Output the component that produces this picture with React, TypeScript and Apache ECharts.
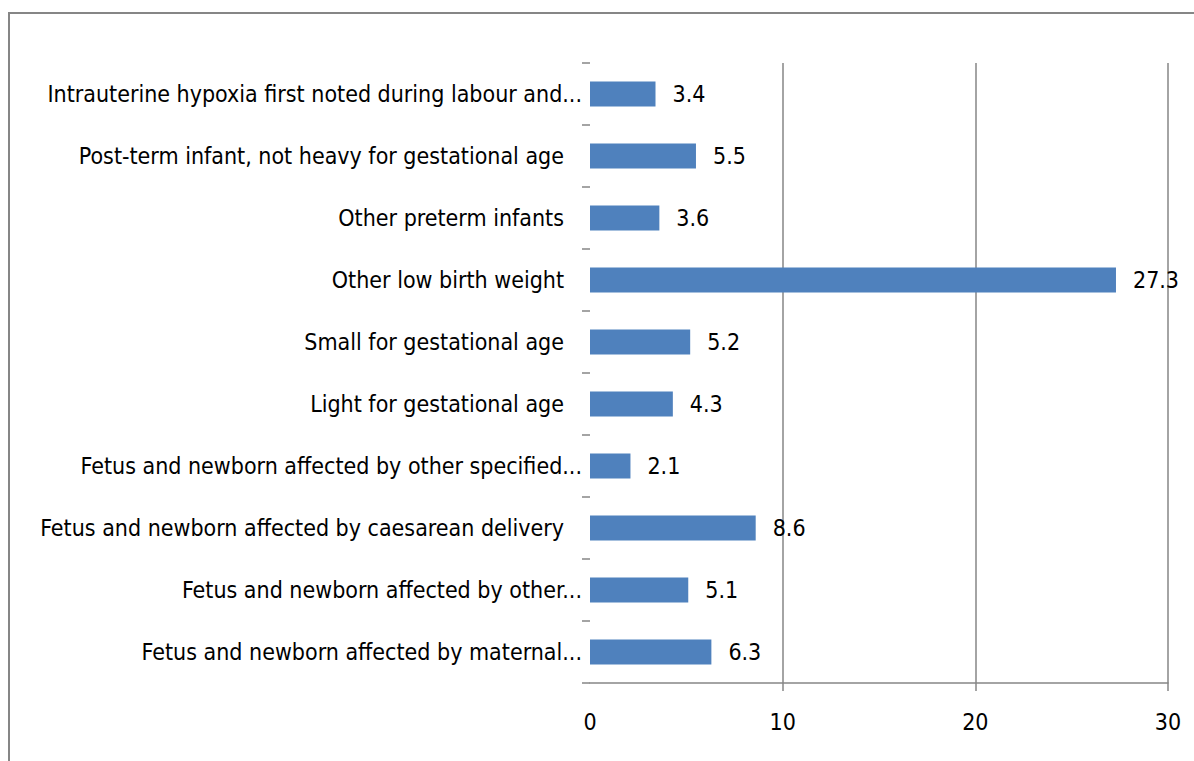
import React, { useEffect, useRef } from "react";
import * as echarts from "echarts";

const categories = [
  "Fetus and newborn affected by maternal...",
  "Fetus and newborn affected by other...",
  "Fetus and newborn affected by caesarean delivery",
  "Fetus and newborn affected by other specified...",
  "Light for gestational age",
  "Small for gestational age",
  "Other low birth weight",
  "Other preterm infants",
  "Post-term infant, not heavy for gestational age",
  "Intrauterine hypoxia first noted during labour and...",
];
const values = [6.3, 5.1, 8.6, 2.1, 4.3, 5.2, 27.3, 3.6, 5.5, 3.4];
const xTicks = [10, 20, 30];

const FONT = "'Liberation Sans Narrow', 'DejaVu Sans Condensed', 'Open Sans', sans-serif";

export default function App() {
  const ref = useRef<HTMLDivElement>(null);
  useEffect(() => {
    const chart = echarts.init(ref.current!, null, { renderer: "svg" });
    chart.setOption({
      animation: false,
      backgroundColor: "#ffffff",
      grid: { left: 590, right: 26, top: 63, bottom: 78, containLabel: false },
      xAxis: {
        type: "value",
        min: 0,
        max: 30,
        interval: 10,
        axisLine: { show: true, lineStyle: { color: "#868686", width: 1.5 } },
        axisTick: { show: true, length: 8, customValues: xTicks, lineStyle: { color: "#868686", width: 1.5 } },
        axisLabel: { color: "#000", fontSize: 23, fontFamily: FONT, margin: 27 },
        splitLine: { show: true, lineStyle: { color: "#868686", width: 1.5 } },
      },
      yAxis: {
        type: "category",
        data: categories,
        axisLine: { show: false },
        axisTick: { show: true, length: 8, lineStyle: { color: "#868686", width: 1.5 } },
        axisLabel: {
          color: "#000",
          fontSize: 23,
          fontFamily: FONT,
          margin: 8,
          formatter: (v: string) => (v.endsWith("...") ? `{t|${v}}` : `{f|${v}}`),
          rich: {
            t: { fontSize: 23, fontFamily: FONT, color: "#000" },
            f: { fontSize: 23, fontFamily: FONT, color: "#000", padding: [0, 18, 0, 0] },
          },
        },
        splitLine: { show: false },
      },
      series: [
        {
          type: "bar",
          data: values,
          barWidth: 25,
          itemStyle: { color: "#4F81BD" },
          label: {
            show: true,
            position: "right",
            distance: 17,
            color: "#000",
            fontSize: 23,
            fontFamily: FONT,
          },
        },
      ],
      graphic: [
        { type: "line", shape: { x1: 8, y1: 13, x2: 1194, y2: 13 }, style: { stroke: "#868686", lineWidth: 2 } },
        { type: "line", shape: { x1: 9, y1: 13, x2: 9, y2: 761 }, style: { stroke: "#868686", lineWidth: 2 } },
      ],
    });
    return () => chart.dispose();
  }, []);
  return (
    <div
      ref={ref}
      style={{ position: "fixed", left: 0, top: 0, width: 1194, height: 761 }}
    />
  );
}
